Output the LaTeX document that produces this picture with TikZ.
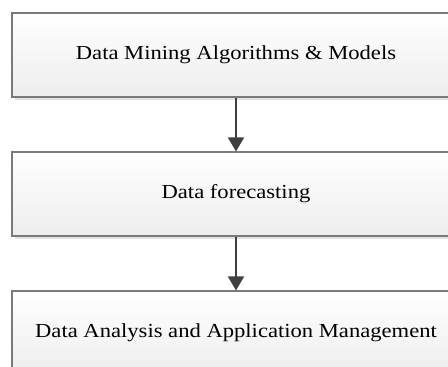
\documentclass[tikz,border=0pt]{standalone}
\usepackage{fontspec}
\setmainfont{Liberation Serif}
\usetikzlibrary{arrows.meta,shadows}
\definecolor{boxline}{HTML}{7A7A7A}
\definecolor{arrowcol}{HTML}{404040}
\definecolor{shadowcol}{HTML}{E2E2E2}
\tikzset{
  flowbox/.style={rectangle, draw=boxline, line width=1.1pt,
    top color=white, bottom color=black!7,
    minimum width=448pt, minimum height=84pt, inner sep=0pt,
    drop shadow={shadow xshift=3pt, shadow yshift=-3pt, fill=shadowcol, opacity=1},
    font=\fontsize{22.6}{27}\selectfont},
  flowarrow/.style={draw=arrowcol, line width=1.6pt,
    -{Triangle[length=14pt,width=16pt]}}
}
\begin{document}
\begin{tikzpicture}[x=1pt,y=1pt]
\useasboundingbox (0,0) rectangle (448,-367);
\clip (0,0) rectangle (448,-367);
\node[flowbox] (a) at (236,-55) {\scalebox{1}[0.88]{Data Mining Algorithms \& Models}};
\node[flowbox] (b) at (236,-194) {\scalebox{1}[0.88]{Data forecasting}};
\node[flowbox] (c) at (236,-333) {\scalebox{1}[0.88]{Data Analysis and Application Management}};
\draw[flowarrow] (a) -- (b);
\draw[flowarrow] (b) -- (c);
\end{tikzpicture}
\end{document}
